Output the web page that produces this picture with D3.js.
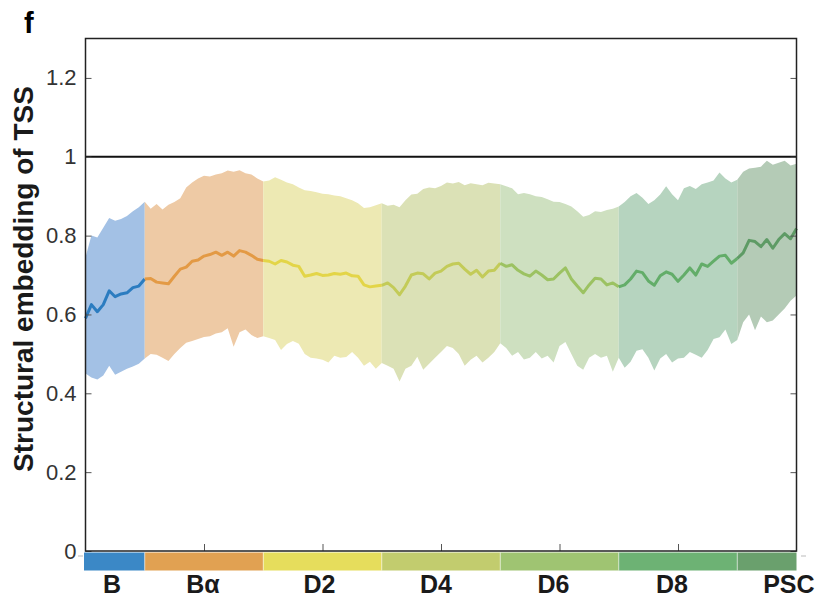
<!DOCTYPE html>
<html><head><meta charset="utf-8">
<script src="https://cdn.jsdelivr.net/npm/d3@7"></script>
<style>body{margin:0;background:#fff} svg{display:block}</style>
</head><body>
<svg id="c" width="820" height="601"></svg>
<script>
// ---------- data ----------
const categories = ["B", "B\u03B1", "D2", "D4", "D6", "D8", "PSC"];
const catStart = [0, 50, 150, 250, 350, 450, 550];
const catEnd   = [50, 150, 250, 350, 450, 550, 600];
const xTickValues = [100, 200, 300, 400, 500];
const yTicks = [0, 0.2, 0.4, 0.6, 0.8, 1, 1.2];
const yTickLabels = ["0", "0.2", "0.4", "0.6", "0.8", "1", "1.2"];
const refLevel = 1;
const sampleStep = 5; // pseudotime spacing between samples

const meanVals = [
  0.59, 0.625, 0.607, 0.625, 0.66, 0.645, 0.652, 0.655, 0.668, 0.672, 0.69,
  0.691, 0.682, 0.68, 0.678, 0.697, 0.715, 0.72, 0.735, 0.738, 0.748, 0.752, 0.758, 0.75, 0.758, 0.748, 0.762, 0.758, 0.75, 0.74, 0.737,
  0.735, 0.728, 0.737, 0.733, 0.725, 0.722, 0.697, 0.7, 0.704, 0.699, 0.7, 0.704, 0.702, 0.705, 0.698, 0.697, 0.675, 0.67, 0.672, 0.674,
  0.68, 0.668, 0.65, 0.672, 0.7, 0.705, 0.703, 0.69, 0.705, 0.71, 0.722, 0.728, 0.73, 0.715, 0.702, 0.712, 0.695, 0.71, 0.712, 0.73,
  0.722, 0.726, 0.712, 0.703, 0.697, 0.71, 0.70, 0.688, 0.69, 0.705, 0.718, 0.69, 0.672, 0.655, 0.675, 0.692, 0.69, 0.675, 0.68, 0.67,
  0.675, 0.69, 0.71, 0.706, 0.685, 0.674, 0.698, 0.708, 0.702, 0.684, 0.7, 0.718, 0.7, 0.728, 0.722, 0.735, 0.748, 0.75, 0.73, 0.742,
  0.756, 0.788, 0.785, 0.772, 0.79, 0.768, 0.79, 0.805, 0.792, 0.818
];
const upperVals = [
  0.745, 0.80, 0.795, 0.82, 0.845, 0.838, 0.842, 0.85, 0.862, 0.872, 0.886,
  0.868, 0.88, 0.866, 0.878, 0.885, 0.895, 0.922, 0.935, 0.945, 0.952, 0.95, 0.955, 0.958, 0.965, 0.962, 0.966, 0.958, 0.955, 0.945, 0.937,
  0.94, 0.948, 0.942, 0.935, 0.93, 0.922, 0.915, 0.913, 0.91, 0.906, 0.905, 0.902, 0.9, 0.895, 0.89, 0.882, 0.87, 0.872, 0.877, 0.882,
  0.876, 0.878, 0.872, 0.89, 0.904, 0.906, 0.918, 0.922, 0.92, 0.926, 0.935, 0.932, 0.936, 0.928, 0.933, 0.93, 0.928, 0.934, 0.932, 0.93,
  0.925, 0.92, 0.905, 0.908, 0.905, 0.9, 0.898, 0.892, 0.886, 0.885, 0.88, 0.874, 0.862, 0.848, 0.852, 0.862, 0.86, 0.865, 0.868, 0.874,
  0.885, 0.9, 0.908, 0.896, 0.88, 0.89, 0.904, 0.925, 0.905, 0.89, 0.92, 0.926, 0.918, 0.93, 0.935, 0.94, 0.96, 0.945, 0.935, 0.942,
  0.962, 0.97, 0.972, 0.975, 0.99, 0.98, 0.985, 0.99, 0.978, 0.982
];
const lowerVals = [
  0.45, 0.44, 0.435, 0.445, 0.47, 0.447, 0.455, 0.462, 0.468, 0.475, 0.488,
  0.5, 0.498, 0.49, 0.482, 0.5, 0.515, 0.528, 0.533, 0.538, 0.543, 0.545, 0.552, 0.555, 0.565, 0.518, 0.555, 0.562, 0.548, 0.54, 0.545,
  0.54, 0.535, 0.51, 0.525, 0.533, 0.526, 0.5, 0.49, 0.488, 0.485, 0.478, 0.495, 0.49, 0.492, 0.505, 0.49, 0.47, 0.48, 0.462, 0.477,
  0.47, 0.462, 0.43, 0.462, 0.47, 0.493, 0.46, 0.475, 0.49, 0.505, 0.52, 0.515, 0.5, 0.47, 0.485, 0.495, 0.478, 0.49, 0.505, 0.527,
  0.515, 0.495, 0.505, 0.486, 0.49, 0.505, 0.488, 0.495, 0.478, 0.52, 0.53, 0.5, 0.47, 0.46, 0.49, 0.5, 0.49, 0.495, 0.455, 0.49,
  0.465, 0.48, 0.508, 0.512, 0.49, 0.458, 0.488, 0.5, 0.478, 0.488, 0.49, 0.505, 0.498, 0.49, 0.51, 0.538, 0.542, 0.562, 0.525, 0.535,
  0.58, 0.6, 0.56, 0.595, 0.58, 0.585, 0.6, 0.615, 0.635, 0.648
];

// ---------- styles ----------
const bandColors = ["#a3c1e5", "#eecaa5", "#ede9b3", "#dbe1b6", "#cee0c0", "#b6d4bf", "#b4cbb6"];
const lineColors = ["#2b7cc0", "#e39a45", "#e3d548", "#c3cb58", "#9cc262", "#63ad69", "#5e9b65"];
const barColors  = ["#3b88c6", "#e1a152", "#e6dd5c", "#c2cc6e", "#9fc472", "#6db274", "#6aa06d"];
const labelShift = [-3, -1, -3, -5, -6, -6, 22];

(function () {
const svg = d3.select("#c");
const pLeft = 85.5, pRight = 796.5, pTop = 38.5, pBottom = 551;

const x = d3.scaleLinear().domain([0, 600]).range([pLeft, pRight]);
const y = d3.scaleLinear().domain([0, 1.3]).range([pBottom, pTop]);

const pts = meanVals.map((m, i) => ({ t: i * sampleStep, m, hi: upperVals[i], lo: lowerVals[i] }));

const area = d3.area().x(d => x(d.t)).y0(d => y(d.lo)).y1(d => y(d.hi));
const line = d3.line().x(d => x(d.t)).y(d => y(d.m));

const gBand = svg.append("g");
categories.forEach((c, k) => {
  const seg = pts.filter(p => p.t >= catStart[k] && p.t <= catEnd[k]);
  gBand.append("path").attr("d", area(seg)).attr("fill", bandColors[k]).attr("stroke", "none");
});

// reference line at 1
svg.append("line")
  .attr("x1", x(0)).attr("x2", x(600))
  .attr("y1", y(refLevel)).attr("y2", y(refLevel))
  .attr("stroke", "#111").attr("stroke-width", 2);

const gLine = svg.append("g");
categories.forEach((c, k) => {
  const seg = pts.filter(p => p.t >= catStart[k] && p.t <= catEnd[k]);
  gLine.append("path").attr("d", line(seg)).attr("fill", "none")
    .attr("stroke", lineColors[k]).attr("stroke-width", 3).attr("stroke-linejoin", "round");
});

// axes
const fmt = d => yTickLabels[yTicks.indexOf(d)];
const ax = svg.append("g").attr("transform", `translate(${pLeft},0)`)
  .call(d3.axisLeft(y).tickValues(yTicks).tickFormat(fmt).tickSize(-6).tickPadding(9));
ax.select(".domain").remove();
ax.selectAll(".tick line").attr("stroke", "#555");
ax.selectAll(".tick text").attr("font-family", "'Liberation Sans', Arial, sans-serif")
  .attr("font-size", 22).attr("fill", "#333");

const axR = svg.append("g").attr("transform", `translate(${pRight},0)`)
  .call(d3.axisRight(y).tickValues(yTicks).tickFormat("").tickSize(-6));
axR.select(".domain").remove();
axR.selectAll(".tick line").attr("stroke", "#555");

const axB = svg.append("g").attr("transform", `translate(0,${pBottom})`)
  .call(d3.axisBottom(x).tickValues(xTickValues).tickFormat("").tickSize(-7));
axB.select(".domain").remove();
axB.selectAll(".tick line").attr("stroke", "#555");

// frame
svg.append("rect").attr("x", pLeft).attr("y", pTop)
  .attr("width", pRight - pLeft).attr("height", pBottom - pTop)
  .attr("fill", "none").attr("stroke", "#222").attr("stroke-width", 1.5);

// category colour bar
const barTop = 552.5, barH = 18;
categories.forEach((c, k) => {
  svg.append("rect")
    .attr("x", x(catStart[k]) - (k === 0 ? 1.5 : 0))
    .attr("y", barTop)
    .attr("width", x(catEnd[k]) - x(catStart[k]) + (k === 0 ? 1.5 : 0))
    .attr("height", barH)
    .attr("fill", barColors[k]);
  if (k > 0) {
    svg.append("line").attr("x1", x(catStart[k])).attr("x2", x(catStart[k]))
      .attr("y1", barTop).attr("y2", barTop + barH)
      .attr("stroke", "#fff").attr("stroke-opacity", 0.55).attr("stroke-width", 1);
  }
  svg.append("text")
    .attr("x", x((catStart[k] + catEnd[k]) / 2) + labelShift[k])
    .attr("y", 593)
    .attr("text-anchor", "middle")
    .attr("font-family", "'Liberation Sans', Arial, sans-serif")
    .attr("font-weight", "bold").attr("font-size", 25).attr("fill", "#1a1a1a")
    .text(c);
});
// tiny colour-bar ticks
svg.append("line").attr("x1", 78).attr("x2", 83).attr("y1", 556).attr("y2", 556).attr("stroke", "#bbb");
svg.append("line").attr("x1", 801).attr("x2", 806).attr("y1", 556).attr("y2", 556).attr("stroke", "#bbb");

// y title
svg.append("text")
  .attr("transform", "translate(33,279) rotate(-90)")
  .attr("text-anchor", "middle")
  .attr("font-family", "'Liberation Sans', Arial, sans-serif")
  .attr("font-weight", "bold").attr("font-size", 28).attr("fill", "#1a1a1a")
  .text("Structural embedding of TSS");

// panel letter
svg.append("text").attr("x", 24).attr("y", 33)
  .attr("font-family", "'Liberation Sans', Arial, sans-serif")
  .attr("font-weight", "bold").attr("font-size", 29).attr("fill", "#000")
  .text("f");
})();
</script>
</body></html>
